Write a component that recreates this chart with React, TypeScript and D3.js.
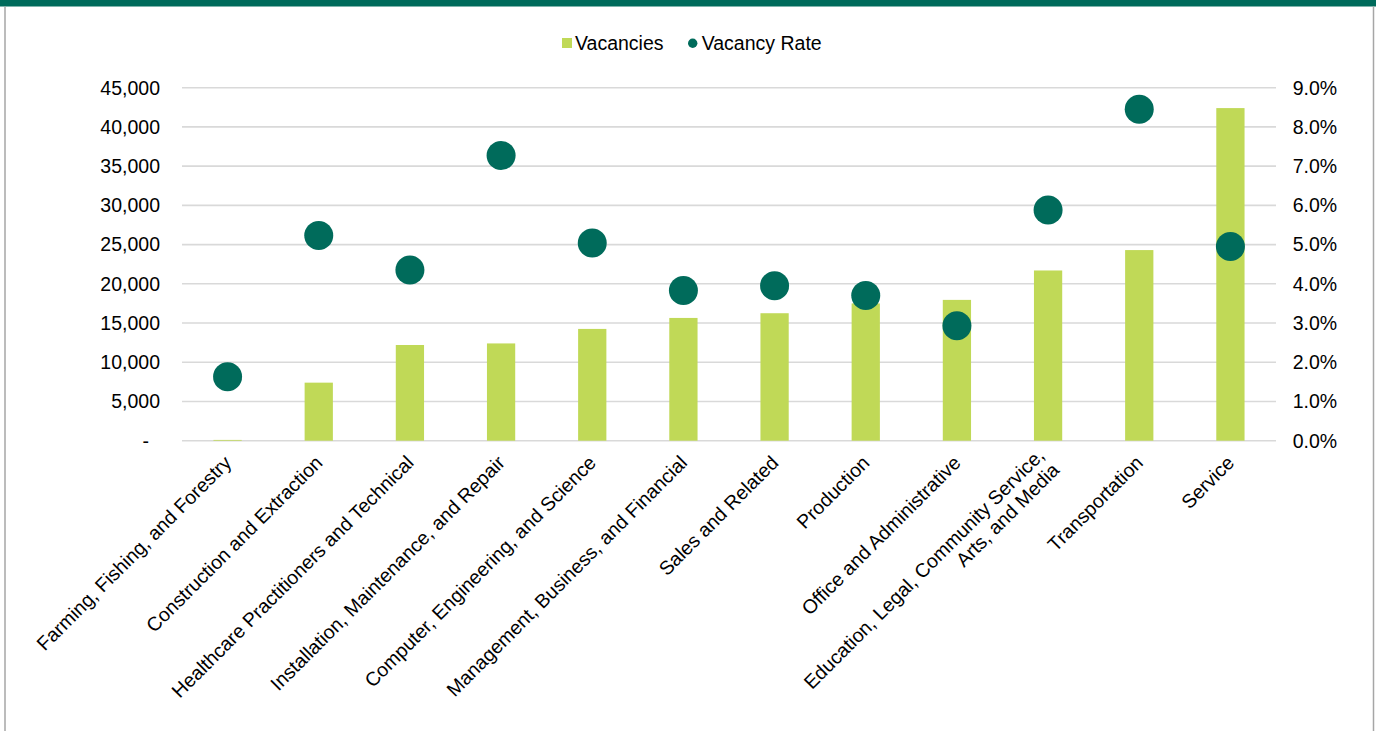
import React from "react";
import { scaleBand, scaleLinear, format } from "d3";

const categories = [
  "Farming, Fishing, and Forestry",
  "Construction and Extraction",
  "Healthcare Practitioners and Technical",
  "Installation, Maintenance, and Repair",
  "Computer, Engineering, and Science",
  "Management, Business, and Financial",
  "Sales and Related",
  "Production",
  "Office and Administrative",
  "Education, Legal, Community Service,\nArts, and Media",
  "Transportation",
  "Service",
];

const vacancies = [100, 7400, 12200, 12400, 14250, 15650, 16250, 17500, 17950, 21700, 24300, 42400];
const vacancyRate = [0.0163, 0.0523, 0.0435, 0.0727, 0.0504, 0.0383, 0.0395, 0.037, 0.0293, 0.0588, 0.0845, 0.0495];

const leftTicks = [0, 5000, 10000, 15000, 20000, 25000, 30000, 35000, 40000, 45000];
const rightTicks = [0, 0.01, 0.02, 0.03, 0.04, 0.05, 0.06, 0.07, 0.08, 0.09];

const W = 1376;
const H = 731;
const GREEN = "#006b5b";
const LIME = "#c0d957";
const FONT = "'Liberation Sans', Arial, sans-serif";
const FS = 19.5;

export default function App() {
  const plot = { left: 182, right: 1276, top: 87.7, bottom: 440.7 };

  const x = scaleBand<string>()
    .domain(categories)
    .range([plot.left, plot.right])
    .paddingInner(0.69)
    .paddingOuter(0.345);

  const yL = scaleLinear().domain([0, 45000]).range([plot.bottom, plot.top]);
  const yR = scaleLinear().domain([0, 0.09]).range([plot.bottom, plot.top]);

  const fmtL = format(",");
  const fmtR = format(".1%");

  return (
    <div style={{ position: "absolute", left: 0, top: 0 }}>
      <svg width={W} height={H} style={{ display: "block", fontFamily: FONT }}>
        <rect x={0} y={0} width={W} height={H} fill="#fff" />
        {/* frame */}
        <rect x={0} y={0} width={W} height={6.5} fill={GREEN} />
        <line x1={5} x2={5} y1={6.5} y2={H} stroke="#a6a6a6" strokeWidth={1.5} />
        <line x1={1373.5} x2={1373.5} y1={6.5} y2={H} stroke="#a6a6a6" strokeWidth={1.5} />

        {/* legend */}
        <g fontSize={FS} fill="#000">
          <rect x={562} y={38} width={10} height={10} fill={LIME} />
          <text x={575} y={49.5}>Vacancies</text>
          <circle cx={692.7} cy={43.3} r={4.7} fill={GREEN} />
          <text x={701.7} y={49.5}>Vacancy Rate</text>
        </g>

        {/* gridlines */}
        {leftTicks.map((t) => (
          <line
            key={t}
            x1={plot.left}
            x2={plot.right}
            y1={yL(t)}
            y2={yL(t)}
            stroke="#d9d9d9"
            strokeWidth={1.6}
          />
        ))}

        {/* left axis */}
        {leftTicks.map((t) => (
          <text
            key={t}
            x={t === 0 ? 149 : 160}
            y={yL(t)}
            dy="0.35em"
            textAnchor="end"
            fontSize={FS}
            fill="#000"
          >
            {t === 0 ? "-" : fmtL(t)}
          </text>
        ))}

        {/* right axis */}
        {rightTicks.map((t) => (
          <text key={t} x={1292.7} y={yR(t)} dy="0.35em" fontSize={FS} fill="#000">
            {fmtR(t)}
          </text>
        ))}

        {/* bars */}
        {categories.map((c, i) => (
          <rect
            key={c}
            x={x(c)}
            y={yL(vacancies[i])}
            width={x.bandwidth()}
            height={plot.bottom - yL(vacancies[i])}
            fill={LIME}
          />
        ))}

        {/* rate dots */}
        {categories.map((c, i) => (
          <circle
            key={c}
            cx={(x(c) ?? 0) + x.bandwidth() / 2}
            cy={yR(vacancyRate[i])}
            r={14.5}
            fill={GREEN}
          />
        ))}

        {/* category labels */}
        {categories.map((c) => {
          const cx = (x(c) ?? 0) + x.bandwidth() / 2;
          const lines = c.split("\n");
          const lh = 21;
          return (
            <g key={c} transform={`translate(${cx + 5}, 464) rotate(-45)`}>
              {lines.map((ln, j) => (
                <text
                  key={j}
                  x={0}
                  y={(j - (lines.length - 1) / 2) * lh}
                  textAnchor="end"
                  fontSize={FS}
                  fill="#000"
                >
                  {ln}
                </text>
              ))}
            </g>
          );
        })}
      </svg>
    </div>
  );
}
